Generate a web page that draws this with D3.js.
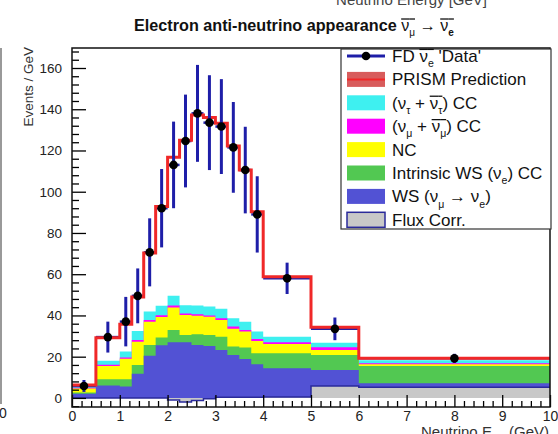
<!DOCTYPE html>
<html>
<head>
<meta charset="utf-8">
<script src="https://cdn.jsdelivr.net/npm/d3@7"></script>
<style>
body { margin: 0; background: #fff; }
svg { display: block; }
text { font-family: "Liberation Sans", Arial, Helvetica, sans-serif; }
</style>
</head>
<body>
<svg id="chart" width="558" height="434"></svg>
<script>
'use strict';

// binning (GeV)
const binEdges = [0, 0.5, 1, 1.25, 1.5, 1.75, 2, 2.25, 2.5, 2.75, 3, 3.25, 3.5, 3.75, 4, 5, 6, 10];

// stacked components, events / GeV per bin (bottom of stack first)
const fluxCorr  = [0, 0, 0, 0, 0, 0, -1, -2, -1.2, -0.4, 0.3, 0.3, 0.3, 0.3, 0.5, 5.8, 5.2];
const wsApp     = [2, 6, 5.5, 11.7, 20.5, 25.5, 28, 29, 26.9, 25.6, 23, 20.5, 18.6, 16, 13.9, 7.8, 1.9];
const intrinsic = [0.6, 3, 3.5, 4.3, 5.2, 3.8, 6, 3.5, 5.2, 5.3, 6.4, 4.1, 5.5, 5.4, 7.3, 7.2, 8.4];
const ncBkg     = [2, 6.5, 10, 11.3, 11.3, 10, 10.8, 9.7, 9, 8.9, 8.1, 8.6, 7.8, 5.9, 4.5, 2.5, 0.8];
const numuCC    = [0.3, 0.6, 0.6, 0.8, 0.8, 0.8, 1, 0.8, 0.7, 0.6, 0.8, 1.1, 0.8, 1, 0.8, 1.3, 0.5];
const nutauCC   = [0.5, 1.9, 2.9, 4.3, 4.1, 4.6, 4.8, 4, 4.2, 4.3, 4.6, 4, 4, 3.6, 2.7, 2.2, 1.5];

// PRISM prediction per bin
const prediction = [6.3, 29.2, 35.7, 49, 70.3, 92.8, 116.7, 125, 137.2, 136, 133.2, 122.2, 110.5, 90.3, 58.8, 34.3, 19.2];

// FD 'data'
const dataX   = [0.25, 0.75, 1.125, 1.375, 1.625, 1.875, 2.125, 2.375, 2.625, 2.875, 3.125, 3.375, 3.625, 3.875, 4.5, 5.5, 8];
const dataY   = [5.8, 29.5, 37, 49.5, 70.6, 92, 113, 124.6, 138, 133.5, 131.6, 121.5, 110.5, 89, 58, 33.5, 19.2];
const dataErr = [2.9, 7.5, 12, 13.3, 16.5, 19, 21, 22.5, 23.5, 23, 23, 22, 21, 18.5, 7.6, 5.5, 2.2];

// ticks
const xTickValues = [0, 1, 2, 3, 4, 5, 6, 7, 8, 9, 10];
const yTickValues = [0, 20, 40, 60, 80, 100, 120, 140, 160];

const layers = [
	{name: 'flux', values: fluxCorr, color: '#c8c8c8'},
	{name: 'ws', values: wsApp, color: '#5252d4'},
	{name: 'intrinsic', values: intrinsic, color: '#52c852'},
	{name: 'nc', values: ncBkg, color: '#ffff00'},
	{name: 'numu', values: numuCC, color: '#ff00ff'},
	{name: 'nutau', values: nutauCC, color: '#3ef0f0'}
];

const svg = d3.select('#chart');
const x = d3.scaleLinear().domain([0, 10]).range([72, 550]);
const y = d3.scaleLinear().domain([-4.4, 169.7]).range([407, 48]);

// draw a string made of pieces (subscripts, overbars)
const richText = (g, parts, {px, py, size, weight = 'normal', anchor = 'start', fill = '#000'}) => {
	const grp = g.append('g');
	let cx = 0;
	const bars = [];
	parts.forEach(p => {
		const fs = p.sub ? size * 0.62 : size;
		const t = grp.append('text')
			.attr('x', cx)
			.attr('y', p.sub ? size * 0.3 : 0)
			.attr('font-size', fs)
			.attr('font-weight', p.w || weight)
			.attr('fill', fill)
			.style('white-space', 'pre')
			.text(p.t);
		const w = t.node().getComputedTextLength();
		if (p.bar) bars.push([cx, w]);
		cx += w;
	});
	bars.forEach(([bx, w]) => grp.append('line')
		.attr('x1', bx).attr('x2', bx + w)
		.attr('y1', -size * 0.74).attr('y2', -size * 0.74)
		.attr('stroke', fill).attr('stroke-width', 1.3));
	const x0 = anchor === 'end' ? px - cx : anchor === 'middle' ? px - cx / 2 : px;
	grp.attr('transform', `translate(${x0},${py})`);
	return cx;
};

// step outline points for a per-bin series
const stepPoints = vals => vals.flatMap((v, i) => [
	{x: binEdges[i], v},
	{x: binEdges[i + 1], v}
]);

// cumulative stack, drawn ROOT-like: top layer first, each from 0
let cum = binEdges.slice(1).map(() => 0);
const cumLayers = layers.map(l => {
	cum = cum.map((c, i) => c + l.values[i]);
	return Object.assign({}, l, {cum: cum.slice()});
});

const area = d3.area()
	.x(d => x(d.x))
	.y0(y(0))
	.y1(d => y(d.v));
const stepLine = d3.line()
	.x(d => x(d.x))
	.y(d => y(d.v));

const plot = svg.append('g');
cumLayers.slice().reverse().forEach(l => {
	plot.append('path')
		.attr('d', area(stepPoints(l.cum)))
		.attr('fill', l.color);
});
// flux correction outline
plot.append('path')
	.attr('d', stepLine(stepPoints(fluxCorr)))
	.attr('fill', 'none')
	.attr('stroke', '#2a2a9a')
	.attr('stroke-width', 1.5);

// data horizontal bars (bin widths)
const dataBins = dataX.map(dx => binEdges.findIndex((e, i) => dx >= e && dx < binEdges[i + 1]));
plot.selectAll('.xerr').data(dataX).join('line')
	.attr('x1', (d, i) => x(binEdges[dataBins[i]]))
	.attr('x2', (d, i) => x(binEdges[dataBins[i] + 1]))
	.attr('y1', (d, i) => y(dataY[i]))
	.attr('y2', (d, i) => y(dataY[i]))
	.attr('stroke', '#1e1ea8')
	.attr('stroke-width', 2.5);

// prediction
plot.append('path')
	.attr('d', stepLine(stepPoints(prediction)))
	.attr('fill', 'none')
	.attr('stroke', '#f02828')
	.attr('stroke-width', 3);

// data vertical errors + markers
plot.selectAll('.yerr').data(dataX).join('line')
	.attr('x1', d => x(d)).attr('x2', d => x(d))
	.attr('y1', (d, i) => y(dataY[i] - dataErr[i]))
	.attr('y2', (d, i) => y(dataY[i] + dataErr[i]))
	.attr('stroke', '#1e1ea8')
	.attr('stroke-width', 3);
plot.selectAll('.pt').data(dataX).join('circle')
	.attr('cx', d => x(d))
	.attr('cy', (d, i) => y(dataY[i]))
	.attr('r', 4.3)
	.attr('fill', '#000');

// axes
const yAxis = svg.append('g')
	.attr('transform', `translate(${x(0)},0)`)
	.call(d3.axisLeft(y).tickValues(yTickValues).tickSize(-14).tickPadding(10));
const yMinor = svg.append('g')
	.attr('transform', `translate(${x(0)},0)`)
	.call(d3.axisLeft(y).tickValues(d3.range(-4, 169, 4).filter(v => v % 20 !== 0)).tickSize(-7).tickFormat(''));
const xAxis = svg.append('g')
	.attr('transform', `translate(0,${y.range()[0]})`)
	.call(d3.axisBottom(x).tickValues(xTickValues).tickSize(-12).tickPadding(4));
const xMinor = svg.append('g')
	.attr('transform', `translate(0,${y.range()[0]})`)
	.call(d3.axisBottom(x).tickValues(d3.range(0.2, 10, 0.2).filter(v => Math.abs(v - Math.round(v)) > 0.01)).tickSize(-6).tickFormat(''));
[yAxis, yMinor, xAxis, xMinor].forEach(a => {
	a.select('.domain').remove();
	a.selectAll('line').attr('stroke', '#000').attr('stroke-width', 1.3);
	a.selectAll('text').attr('fill', '#222')
		.attr('font-family', '"Liberation Sans", Arial, sans-serif');
});
yAxis.selectAll('text').attr('font-size', 13.5);
xAxis.selectAll('text').attr('font-size', 14);

// frame
svg.append('rect')
	.attr('x', x(0)).attr('y', y.range()[1])
	.attr('width', x(10) - x(0)).attr('height', y.range()[0] - y.range()[1])
	.attr('fill', 'none').attr('stroke', '#111').attr('stroke-width', 1.5);

// axis titles
svg.append('text')
	.attr('transform', 'translate(33,47) rotate(-90)')
	.attr('text-anchor', 'end')
	.attr('font-size', 13.5)
	.attr('fill', '#333')
	.text('Events / GeV');
richText(svg, [{t: 'Neutrino E'}, {t: 'rec', sub: true}, {t: ' (GeV)'}],
	{px: 549, py: 437, size: 15, anchor: 'end', fill: '#333'});

// title
richText(svg, [
	{t: 'Electron anti-neutrino appearance '},
	{t: 'ν', bar: true, w: 'normal'}, {t: 'μ', sub: true, bar: true, w: 'normal'},
	{t: ' → ', w: 'normal'},
	{t: 'ν', bar: true, w: 'normal'}, {t: 'e', sub: true, bar: true}
], {px: 134, py: 31, size: 16.2, weight: 'bold', fill: '#111'});

// cut-off bits of the neighbouring page
svg.append('text')
	.attr('x', 487).attr('y', 5)
	.attr('text-anchor', 'end')
	.attr('font-size', 15)
	.attr('font-family', '"Liberation Serif", "DejaVu Serif", serif')
	.attr('fill', '#444')
	.text('Neutrino Energy [GeV]');
svg.append('line')
	.attr('x1', 1).attr('x2', 1).attr('y1', 48).attr('y2', 404)
	.attr('stroke', '#777').attr('stroke-width', 1.5);
svg.append('text')
	.attr('x', 3).attr('y', 418)
	.attr('text-anchor', 'middle')
	.attr('font-size', 14).attr('fill', '#222')
	.text('0');

// legend
const legend = svg.append('g');
legend.append('rect')
	.attr('x', 341).attr('y', 49).attr('width', 210).attr('height', 180)
	.attr('fill', '#fff').attr('stroke', '#333').attr('stroke-width', 1.2);

const legendEntries = [
	{kind: 'data', parts: [{t: 'FD '}, {t: 'ν', bar: true}, {t: 'e', sub: true, bar: true}, {t: " 'Data'"}]},
	{kind: 'pred', parts: [{t: 'PRISM Prediction'}]},
	{kind: 'box', color: '#3ef0f0', parts: [{t: '(ν'}, {t: 'τ', sub: true}, {t: ' + '}, {t: 'ν', bar: true}, {t: 'τ', sub: true, bar: true}, {t: ') CC'}]},
	{kind: 'box', color: '#ff00ff', parts: [{t: '(ν'}, {t: 'μ', sub: true}, {t: ' + '}, {t: 'ν', bar: true}, {t: 'μ', sub: true, bar: true}, {t: ') CC'}]},
	{kind: 'box', color: '#ffff00', parts: [{t: 'NC'}]},
	{kind: 'box', color: '#52c852', parts: [{t: 'Intrinsic WS (ν'}, {t: 'e', sub: true}, {t: ') CC'}]},
	{kind: 'box', color: '#5252d4', parts: [{t: 'WS (ν'}, {t: 'μ', sub: true}, {t: ' → ν'}, {t: 'e', sub: true}, {t: ')'}]},
	{kind: 'flux', color: '#c8c8c8', parts: [{t: 'Flux Corr.'}]}
];

legendEntries.forEach((e, i) => {
	const cy = 56 + i * 23.4;
	if (e.kind === 'data') {
		legend.append('line').attr('x1', 347).attr('x2', 385).attr('y1', cy).attr('y2', cy)
			.attr('stroke', '#1e1ea8').attr('stroke-width', 3);
		legend.append('circle').attr('cx', 366).attr('cy', cy).attr('r', 4.3).attr('fill', '#000');
	} else if (e.kind === 'pred') {
		legend.append('rect').attr('x', 347).attr('y', cy - 7.5).attr('width', 38).attr('height', 15)
			.attr('fill', '#d85c5c');
		legend.append('line').attr('x1', 347).attr('x2', 385).attr('y1', cy).attr('y2', cy)
			.attr('stroke', '#f02828').attr('stroke-width', 2);
	} else {
		legend.append('rect').attr('x', 347).attr('y', cy - 7.5).attr('width', 38).attr('height', 15)
			.attr('fill', e.color)
			.attr('stroke', e.kind === 'flux' ? '#2a2a9a' : 'none')
			.attr('stroke-width', 1.5);
	}
	richText(legend, e.parts, {px: 392, py: cy + 6, size: 17, fill: '#111'});
});
</script>
</body>
</html>
